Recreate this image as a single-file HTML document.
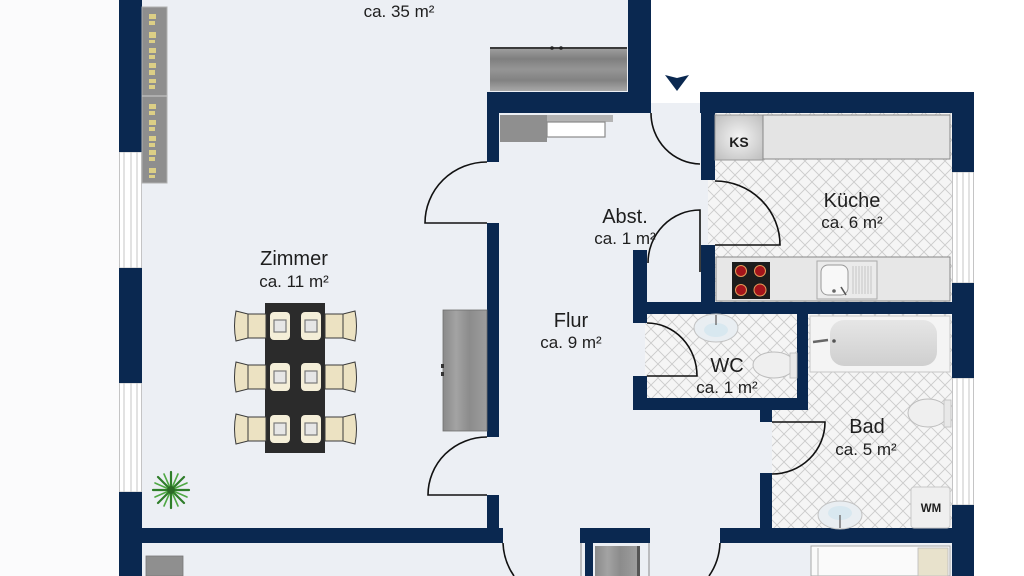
<!DOCTYPE html>
<html><head><meta charset="utf-8"><style>
html,body{margin:0;padding:0;background:#fff;}
svg{display:block;}
text{font-family:"Liberation Sans",Arial,sans-serif;fill:#1e1e1e;}
</style></head><body>
<svg width="1024" height="576" viewBox="0 0 1024 576" xmlns="http://www.w3.org/2000/svg">
<defs>
<pattern id="tile" patternUnits="userSpaceOnUse" width="14" height="14">
<rect width="14" height="14" fill="#f5f5f5"/>
<path d="M0,0L14,14M14,0L0,14" stroke="#cbcbcb" stroke-width="0.9"/>
</pattern>
<linearGradient id="wood" x1="0" y1="0" x2="0" y2="1">
<stop offset="0" stop-color="#a0a0a0"/><stop offset="0.25" stop-color="#7f7f7f"/><stop offset="0.5" stop-color="#959595"/><stop offset="0.75" stop-color="#828282"/><stop offset="1" stop-color="#a8a8a8"/>
</linearGradient>
<linearGradient id="woodv" x1="0" y1="0" x2="1" y2="0">
<stop offset="0" stop-color="#8a8a8a"/><stop offset="0.3" stop-color="#a3a3a3"/><stop offset="0.6" stop-color="#8c8c8c"/><stop offset="1" stop-color="#9d9d9d"/>
</linearGradient>
<radialGradient id="ks" cx="0.5" cy="0.5" r="0.7">
<stop offset="0" stop-color="#f4f4f4"/><stop offset="1" stop-color="#bdbdbd"/>
</radialGradient>
<linearGradient id="tub" x1="0" y1="0" x2="0" y2="1">
<stop offset="0" stop-color="#e6e6e6"/><stop offset="1" stop-color="#cfcfcf"/>
</linearGradient>
</defs>

<!-- background -->
<rect x="0" y="0" width="1024" height="576" fill="#fbfbfc"/>
<rect x="119" y="0" width="855" height="576" fill="#eceff4"/>
<rect x="651" y="0" width="373" height="92" fill="#ffffff"/>
<rect x="651" y="92" width="50" height="11" fill="#ffffff"/>
<rect x="974" y="0" width="50" height="576" fill="#ffffff"/>

<!-- tiled floors -->
<rect x="708" y="113" width="244" height="190" fill="url(#tile)"/>
<rect x="645" y="313" width="152" height="85" fill="url(#tile)"/>
<rect x="772" y="313" width="180" height="217" fill="url(#tile)"/>

<!-- windows -->
<g fill="#ffffff" stroke="#b8b8b8" stroke-width="0.8">
<rect x="119.5" y="152" width="22" height="116"/>
<rect x="119.5" y="383" width="22" height="109"/>
<rect x="952.5" y="172" width="21" height="111"/>
<rect x="952.5" y="378" width="21" height="127"/>
</g>
<g stroke="#c4c4c4" stroke-width="1">
<path d="M124,152V268M131,152V268M137,152V268M124,383V492M131,383V492M137,383V492"/>
<path d="M957,172V283M963,172V283M969,172V283M957,378V505M963,378V505M969,378V505"/>
</g>

<!-- walls -->
<g fill="#0a2850">
<rect x="119" y="0" width="23" height="152"/>
<rect x="119" y="268" width="23" height="115"/>
<rect x="119" y="492" width="23" height="84"/>
<rect x="628" y="0" width="23" height="113"/>
<rect x="487" y="92" width="164" height="21"/>
<rect x="487" y="92" width="12" height="70"/>
<rect x="487" y="223" width="12" height="214"/>
<rect x="487" y="495" width="12" height="48"/>
<rect x="119" y="528" width="384" height="15"/>
<rect x="580" y="528" width="70" height="15"/>
<rect x="585" y="543" width="8" height="33"/>
<rect x="720" y="528" width="254" height="15"/>
<rect x="700" y="92" width="274" height="21"/>
<rect x="701" y="92" width="14" height="88"/>
<rect x="701" y="245" width="14" height="58"/>
<rect x="952" y="92" width="22" height="80"/>
<rect x="952" y="283" width="22" height="95"/>
<rect x="952" y="505" width="22" height="71"/>
<rect x="633" y="302" width="341" height="12"/>
<rect x="633" y="250" width="14" height="73"/>
<rect x="633" y="376" width="14" height="34"/>
<rect x="633" y="398" width="175" height="12"/>
<rect x="797" y="313" width="11" height="97"/>
<rect x="760" y="398" width="12" height="24"/>
<rect x="760" y="473" width="12" height="57"/>
</g>

<!-- entrance arrow -->
<path d="M665,75 L677,78 L689,75 L677,91 Z" fill="#0a2850"/>

<!-- doors -->
<g fill="none" stroke="#111" stroke-width="1.6">
<path d="M651,113 A50,51 0 0 0 700,164"/>
<path d="M487,162 A62,61 0 0 0 425,223 H487"/>
<path d="M487,437 A59,58 0 0 0 428,495 H487"/>
<path d="M715,181 A65,64 0 0 1 780,245 H715"/>
<path d="M700,272 V210 A52,53 0 0 0 648,263"/>
<path d="M647,323 A50,53 0 0 1 697,376 H647"/>
<path d="M772,422 H825 A53,52 0 0 1 772,474"/>
<path d="M503,543 A62,62 0 0 0 514,576"/>
<path d="M720,543 A62,62 0 0 1 709,576"/>
</g>
<path d="M581,543V576M649,543V576" stroke="#8a8a8a" stroke-width="1"/>

<!-- bookshelf -->
<rect x="142" y="7" width="25" height="176" fill="#8e8e8e" stroke="#b0b0b0" stroke-width="1"/>
<line x1="142" y1="96" x2="167" y2="96" stroke="#c2c2c2" stroke-width="1.2"/>
<g fill="#dccf86">
<rect x="149" y="14" width="7" height="5"/><rect x="149" y="21" width="6" height="4"/>
<rect x="149" y="32" width="7" height="6"/><rect x="149" y="40" width="6" height="3"/>
<rect x="149" y="48" width="7" height="5"/><rect x="149" y="55" width="6" height="4"/>
<rect x="149" y="63" width="7" height="5"/><rect x="149" y="70" width="6" height="5"/>
<rect x="149" y="79" width="7" height="4"/><rect x="149" y="85" width="6" height="4"/>
<rect x="149" y="104" width="7" height="5"/><rect x="149" y="111" width="6" height="4"/>
<rect x="149" y="120" width="7" height="5"/><rect x="149" y="127" width="6" height="4"/>
<rect x="149" y="136" width="7" height="5"/><rect x="149" y="143" width="6" height="4"/>
<rect x="149" y="150" width="7" height="5"/><rect x="149" y="157" width="6" height="4"/>
<rect x="149" y="168" width="7" height="5"/><rect x="149" y="175" width="6" height="3"/>
</g>

<!-- top wardrobe -->
<rect x="490" y="48" width="137" height="43" fill="url(#wood)"/>
<rect x="490" y="47" width="137" height="2" fill="#3a3a3a"/>
<circle cx="552" cy="48" r="1.8" fill="#222"/><circle cx="561" cy="48" r="1.8" fill="#222"/>

<!-- flur cabinet -->
<rect x="500" y="115" width="113" height="7" fill="#b4b4b4"/>
<rect x="500" y="115" width="47" height="27" fill="#8f8f8f"/>
<rect x="547" y="122" width="58" height="15" fill="#fff" stroke="#8a8a8a" stroke-width="1.2"/>

<!-- sideboard -->
<rect x="443" y="310" width="44" height="121" fill="url(#woodv)" stroke="#6f6f6f" stroke-width="0.8"/>
<rect x="441" y="364" width="3" height="4" fill="#333"/><rect x="441" y="372" width="3" height="4" fill="#333"/>

<!-- dining table + chairs -->
<rect x="265" y="303" width="60" height="150" fill="#2b2b2b"/>
<g stroke="#3a3a3a" stroke-width="1" fill="#ece2c2">
<path d="M236,311 L248,314 L248,338 L236,341 Q233,326 236,311Z"/><rect x="248" y="314" width="18" height="24"/>
<path d="M355,311 L343,314 L343,338 L355,341 Q358,326 355,311Z"/><rect x="325" y="314" width="18" height="24"/>
<path d="M236,362 L248,365 L248,389 L236,392 Q233,377 236,362Z"/><rect x="248" y="365" width="18" height="24"/>
<path d="M355,362 L343,365 L343,389 L355,392 Q358,377 355,362Z"/><rect x="325" y="365" width="18" height="24"/>
<path d="M236,414 L248,417 L248,441 L236,444 Q233,429 236,414Z"/><rect x="248" y="417" width="18" height="24"/>
<path d="M355,414 L343,417 L343,441 L355,444 Q358,429 355,414Z"/><rect x="325" y="417" width="18" height="24"/>
</g>
<g fill="#f4eed8">
<rect x="270" y="312" width="20" height="28" rx="4"/><rect x="301" y="312" width="20" height="28" rx="4"/>
<rect x="270" y="363" width="20" height="28" rx="4"/><rect x="301" y="363" width="20" height="28" rx="4"/>
<rect x="270" y="415" width="20" height="28" rx="4"/><rect x="301" y="415" width="20" height="28" rx="4"/>
</g>
<g fill="#e6e6e6" stroke="#7a7a7a" stroke-width="1.2">
<rect x="274" y="320" width="12" height="12"/><rect x="305" y="320" width="12" height="12"/>
<rect x="274" y="371" width="12" height="12"/><rect x="305" y="371" width="12" height="12"/>
<rect x="274" y="423" width="12" height="12"/><rect x="305" y="423" width="12" height="12"/>
</g>

<!-- plant -->
<g stroke="#2f7d2a" stroke-width="2.2" stroke-linecap="round">
<path d="M171,490 L171,472 M171,490 L171,508 M171,490 L153,490 M171,490 L189,490 M171,490 L158,477 M171,490 L184,477 M171,490 L158,503 M171,490 L184,503"/>
</g>
<g stroke="#4fa844" stroke-width="1.6" stroke-linecap="round">
<path d="M171,490 L164,474 M171,490 L178,474 M171,490 L155,483 M171,490 L187,483 M171,490 L155,497 M171,490 L187,497 M171,490 L164,506 M171,490 L178,506"/>
</g>
<circle cx="171" cy="490" r="4" fill="#2c6a26"/>

<!-- bottom cabinets -->
<rect x="146" y="556" width="37" height="20" fill="#8f8f8f" stroke="#777" stroke-width="0.8"/>
<rect x="595" y="546" width="42" height="30" fill="url(#woodv)"/>
<rect x="637" y="546" width="3" height="30" fill="#555"/>

<!-- kitchen -->
<rect x="715" y="115" width="48" height="45" fill="url(#ks)" stroke="#999" stroke-width="1"/>
<text x="739" y="147" font-size="14" font-weight="bold" text-anchor="middle">KS</text>
<rect x="763" y="115" width="187" height="44" fill="#e4e4e4" stroke="#888" stroke-width="1"/>
<rect x="716" y="257" width="234" height="44" fill="#e7e7e7" stroke="#888" stroke-width="1"/>
<rect x="732" y="262" width="38" height="37" fill="#1c1c1c"/>
<g fill="#a3141a" stroke="#e39a5a" stroke-width="1">
<circle cx="741" cy="271" r="5.5"/><circle cx="760" cy="271" r="5.5"/>
<circle cx="741" cy="290" r="5.5"/><circle cx="760" cy="290" r="6"/>
</g>
<rect x="817" y="261" width="60" height="38" fill="#ebebeb" stroke="#aaa" stroke-width="1"/>
<rect x="821" y="265" width="27" height="30" rx="7" fill="#f8f8f8" stroke="#999" stroke-width="1"/>
<path d="M853,266V294M856,266V294M859,266V294M862,266V294M865,266V294M868,266V294M871,266V294" stroke="#bdbdbd" stroke-width="0.8"/>
<circle cx="834" cy="291" r="1.8" fill="#666"/>
<path d="M841,287 L846,295" stroke="#555" stroke-width="1.6"/>

<!-- WC -->
<ellipse cx="716" cy="328" rx="22" ry="14" fill="#e9eef2" stroke="#c2c2c2" stroke-width="1"/>
<ellipse cx="716" cy="330" rx="12" ry="7" fill="#d8e8f0"/>
<path d="M716,315 V325" stroke="#777" stroke-width="1.5"/>
<ellipse cx="774" cy="365" rx="21" ry="13" fill="#efefef" stroke="#bdbdbd" stroke-width="1"/>
<rect x="790" y="353" width="7" height="25" fill="#e8e8e8" stroke="#bdbdbd" stroke-width="0.8"/>

<!-- Bad -->
<rect x="810" y="316" width="140" height="56" fill="#f4f4f4" stroke="#c6c6c6" stroke-width="1"/>
<rect x="830" y="320" width="107" height="46" rx="14" fill="url(#tub)"/>
<path d="M813,342 L828,340" stroke="#666" stroke-width="2.5"/>
<circle cx="834" cy="341" r="1.8" fill="#555"/>
<ellipse cx="928" cy="413" rx="20" ry="14" fill="#efefef" stroke="#bdbdbd" stroke-width="1"/>
<rect x="944" y="400" width="7" height="27" fill="#e8e8e8" stroke="#bdbdbd" stroke-width="0.8"/>
<rect x="911" y="487" width="39" height="41" rx="3" fill="#efefef" stroke="#c8c8c8" stroke-width="1"/>
<text x="931" y="512" font-size="11.5" font-weight="bold" text-anchor="middle">WM</text>
<ellipse cx="840" cy="515" rx="22" ry="14" fill="#e9eef2" stroke="#c2c2c2" stroke-width="1"/>
<ellipse cx="840" cy="513" rx="12" ry="7" fill="#d8e8f0"/>
<path d="M840,515 V528" stroke="#777" stroke-width="1.5"/>

<!-- bed -->
<rect x="811" y="546" width="139" height="30" fill="#fafafa" stroke="#a8a8a8" stroke-width="1"/>
<rect x="918" y="548" width="30" height="28" fill="#e8e2cc" stroke="#bbb" stroke-width="0.8"/>
<path d="M818,548 V576" stroke="#bbb" stroke-width="1"/>

<!-- labels -->
<text x="399" y="17" font-size="17" text-anchor="middle">ca. 35 m²</text>
<text x="294" y="265" font-size="20" text-anchor="middle">Zimmer</text>
<text x="294" y="287" font-size="17" text-anchor="middle">ca. 11 m²</text>
<text x="852" y="207" font-size="20" text-anchor="middle">Küche</text>
<text x="852" y="228" font-size="17" text-anchor="middle">ca. 6 m²</text>
<text x="625" y="223" font-size="20" text-anchor="middle">Abst.</text>
<text x="625" y="244" font-size="17" text-anchor="middle">ca. 1 m²</text>
<text x="571" y="327" font-size="20" text-anchor="middle">Flur</text>
<text x="571" y="348" font-size="17" text-anchor="middle">ca. 9 m²</text>
<text x="727" y="372" font-size="20" text-anchor="middle">WC</text>
<text x="727" y="393" font-size="17" text-anchor="middle">ca. 1 m²</text>
<text x="867" y="433" font-size="20" text-anchor="middle">Bad</text>
<text x="866" y="455" font-size="17" text-anchor="middle">ca. 5 m²</text>
</svg>
</body></html>
